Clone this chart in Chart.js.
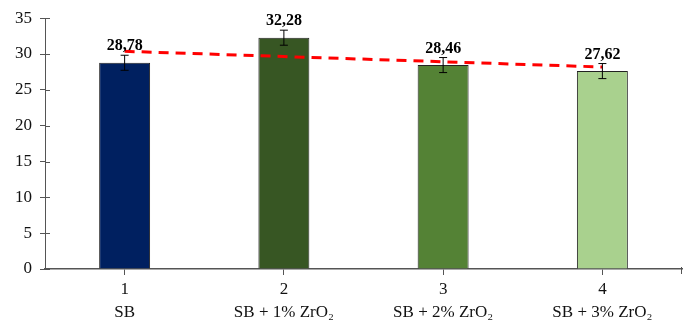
<!DOCTYPE html>
<html>
<head>
<meta charset="utf-8">
<script src="https://cdn.jsdelivr.net/npm/chart.js@4"></script>
<style>
  html, body { margin: 0; padding: 0; background: #fff; }
  #wrap { width: 687px; height: 324px; }
</style>
</head>
<body>
<div id="wrap"><canvas id="chart"></canvas></div>
<script>
const categories = [['1', 'SB'], ['2', 'SB + 1% ZrO₂'], ['3', 'SB + 2% ZrO₂'], ['4', 'SB + 3% ZrO₂']];
const values = [28.78, 32.28, 28.46, 27.62];
const errors = [1.05, 1.05, 1.05, 1.05];
const valueLabels = ['28,78', '32,28', '28,46', '27,62'];
const trendValues = [30.38, 29.65, 28.92, 28.19];
const barColors = ['#002060', '#375623', '#548235', '#a9d18e'];
const yTicks = [0, 5, 10, 15, 20, 25, 30, 35];

const serif = '"Liberation Serif", "Times New Roman", serif';

// error bars, value labels and the small tick stubs inside the axes
const barExtras = {
    id: 'barExtras',
    afterDatasetsDraw(chart) {
        const ctx = chart.ctx;
        const x = chart.scales.x, y = chart.scales.y;
        ctx.save();
        ctx.strokeStyle = '#000';
        ctx.lineWidth = 1;
        values.forEach((v, i) => {
            const cx = x.getPixelForValue(i);
            const top = y.getPixelForValue(v + errors[i]);
            const bot = y.getPixelForValue(v - errors[i]);
            ctx.beginPath();
            ctx.moveTo(cx, top); ctx.lineTo(cx, bot);
            ctx.moveTo(cx - 4, top); ctx.lineTo(cx + 4, top);
            ctx.moveTo(cx - 4, bot); ctx.lineTo(cx + 4, bot);
            ctx.stroke();
            ctx.fillStyle = '#000';
            ctx.font = 'bold 16px ' + serif;
            ctx.textAlign = 'center';
            ctx.textBaseline = 'bottom';
            ctx.fillText(valueLabels[i], cx, top - 1);
        });
        ctx.strokeStyle = '#555';
        ctx.beginPath();
        // end tick on the x axis
        ctx.moveTo(x.right - 0.5, y.bottom - 2);
        ctx.lineTo(x.right - 0.5, y.bottom + 5);
        // y tick stubs crossing the axis
        yTicks.forEach(t => {
            const py = Math.round(y.getPixelForValue(t)) + 0.5;
            ctx.moveTo(x.left, py); ctx.lineTo(x.left + 5, py);
        });
        ctx.stroke();
        ctx.restore();
    }
};

new Chart(document.getElementById('chart').getContext('2d'), {
    data: {
        labels: categories,
        datasets: [{
            type: 'line',
            data: trendValues,
            borderColor: '#ff0000',
            borderWidth: 3,
            borderDash: [10, 7],
            pointRadius: 0,
            fill: false,
            order: 0
        }, {
            type: 'bar',
            data: values,
            backgroundColor: barColors,
            borderColor: '#222',
            borderWidth: 1,
            categoryPercentage: 1,
            barPercentage: 0.32,
            order: 1
        }]
    },
    options: {
        responsive: true,
        maintainAspectRatio: false,
        animation: false,
        layout: { padding: { top: 17, right: 5, left: 0, bottom: 0 } },
        plugins: { legend: { display: false }, tooltip: { enabled: false } },
        scales: {
            x: {
                offset: true,
                grid: { display: true, drawOnChartArea: false, offset: false, tickLength: 6, color: '#555' },
                border: { color: '#555', width: 1.5 },
                ticks: { color: '#111', padding: 3, font: { family: serif, size: 17, lineHeight: 1.35 }, maxRotation: 0 },
                afterFit(s) { s.height = 55; }
            },
            y: {
                min: 0,
                max: 35,
                afterBuildTicks(s) { s.ticks = yTicks.map(v => ({ value: v })); },
                grid: { display: true, drawOnChartArea: false, tickLength: 5, color: '#555' },
                border: { color: '#555', width: 1 },
                ticks: { color: '#111', padding: 8, font: { family: serif, size: 17 } },
                afterFit(s) { s.width = 45; }
            }
        }
    },
    plugins: [barExtras]
});
</script>
</body>
</html>
